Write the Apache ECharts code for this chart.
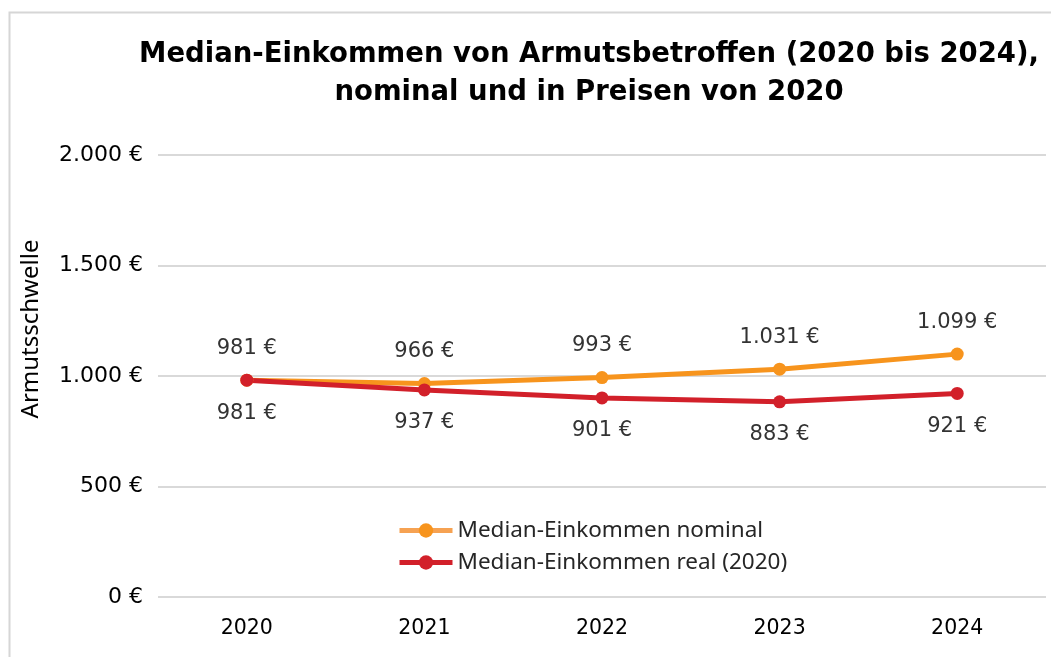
<!DOCTYPE html>
<html>
<head>
<meta charset="utf-8">
<script src="https://cdn.jsdelivr.net/npm/echarts@6/dist/echarts.min.js"></script>
<style>
html,body{margin:0;padding:0;background:#fff;}
#chart{width:1051px;height:657px;}
</style>
</head>
<body>
<div id="chart"></div>
<script>
const categories = ['2020', '2021', '2022', '2023', '2024'];
const nominal = [981, 966, 993, 1031, 1099];
const real = [981, 937, 901, 883, 921];
const seriesNames = ['Median-Einkommen nominal', 'Median-Einkommen real (2020)'];
const titleText = 'Median-Einkommen von Armutsbetroffen (2020 bis 2024),\nnominal und in Preisen von 2020';
const yAxisName = 'Armutsschwelle';

const fmtEuro = v => v.toLocaleString('de-DE') + ' €';
const chart = echarts.init(document.getElementById('chart'));
const ORANGE = '#F7941D';
const RED = '#D2202A';
const NUM_FONT = 'DejaVu Sans';
chart.setOption({
  animation: false,
  graphic: [{
    type: 'rect', left: 7, top: 10,
    shape: { width: 1100, height: 700 },
    style: { fill: 'none', stroke: '#d6d6d6', lineWidth: 2 }, silent: true, z: -1
  }, {
    type: 'text', x: 31, y: 329, rotation: Math.PI / 2,
    style: { text: yAxisName, fontFamily: 'Noto Sans', fontSize: 24, fill: '#000',
      align: 'center', verticalAlign: 'middle' }
  }],
  title: {
    text: titleText,
    left: 584, textAlign: 'center', top: 31,
    textStyle: { fontFamily: 'DejaVu Sans', fontWeight: 'bold', fontSize: 27.5, lineHeight: 38, color: '#000' }
  },
  legend: {
    data: [
      { name: seriesNames[0], lineStyle: { color: '#F6A252', width: 5 } },
      { name: seriesNames[1], lineStyle: { color: RED, width: 5 } }
    ],
    orient: 'vertical', left: 392, top: 514,
    itemWidth: 53, itemHeight: 18, itemGap: 9,
    textStyle: { fontFamily: 'Noto Sans', fontSize: 22.5, color: '#262626' }
  },
  grid: { left: 158, right: 5, top: 155, bottom: 60 },
  xAxis: {
    type: 'category', data: categories, boundaryGap: true,
    axisLine: { show: false }, axisTick: { show: false },
    axisLabel: { margin: 21, fontFamily: NUM_FONT, fontSize: 20.5, color: '#000' }
  },
  yAxis: {
    type: 'value', min: 0, max: 2000, interval: 500,
    axisLabel: { margin: 15, fontFamily: NUM_FONT, fontSize: 22, color: '#000', formatter: fmtEuro },
    splitLine: { lineStyle: { color: '#d9d9d9', width: 2 } }
  },
  series: [{
    name: seriesNames[0], type: 'line', data: nominal,
    color: ORANGE, symbol: 'circle', symbolSize: 13,
    lineStyle: { width: 5, color: ORANGE }, itemStyle: { color: ORANGE },
    label: { show: true, position: 'top', distance: 15, formatter: p => fmtEuro(p.value),
      fontFamily: NUM_FONT, fontSize: 21, color: '#333' }
  }, {
    name: seriesNames[1], type: 'line', data: real,
    color: RED, symbol: 'circle', symbolSize: 13,
    lineStyle: { width: 5, color: RED }, itemStyle: { color: RED },
    label: { show: true, position: 'bottom', distance: 16, formatter: p => fmtEuro(p.value),
      fontFamily: NUM_FONT, fontSize: 21, color: '#333' }
  }]
});
</script>
</body>
</html>
